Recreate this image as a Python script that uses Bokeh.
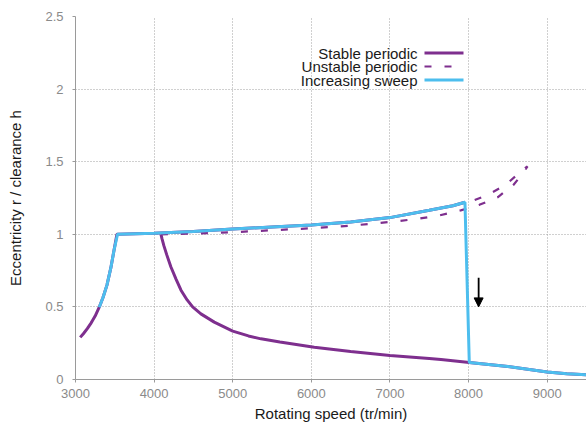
from bokeh.plotting import figure
from bokeh.models import Arrow, NormalHead, FixedTicker, Range1d
from bokeh.core.properties import value
from bokeh.embed import file_html
from bokeh.resources import INLINE

# ---------------- data ----------------
# stable periodic: resonance branch + contact (upper) branch
stable_up_x = [3060, 3100, 3150, 3200, 3250, 3302, 3350, 3400, 3450, 3490, 3527,
               4000, 4500, 5000, 5500, 6000, 6500, 7000, 7500, 7800, 7954]
stable_up_y = [0.29, 0.315, 0.35, 0.39, 0.437, 0.498, 0.565, 0.65, 0.77, 0.89, 1.0,
               1.008, 1.02, 1.036, 1.05, 1.064, 1.085, 1.115, 1.165, 1.197, 1.221]
# stable periodic: lower (non-contact) branch
stable_lo_x = [4087, 4100, 4125, 4160, 4214, 4280, 4342, 4420, 4490, 4595, 4765, 5000, 5200,
               5359, 5600, 6037, 6500, 7000, 7500, 7649, 8009, 8500, 9000, 9250, 9500]
stable_lo_y = [1.0, 0.97, 0.92, 0.86, 0.775, 0.69, 0.615, 0.548, 0.50, 0.452, 0.395, 0.333, 0.30,
               0.28, 0.258, 0.222, 0.193, 0.166, 0.145, 0.138, 0.117, 0.09, 0.052, 0.04, 0.032]
# unstable periodic branch
unstable_x = [4087, 4300, 4600, 4850, 5100, 5360, 5610, 5870, 6120, 6377, 6609, 6864, 7118,
              7373, 7628, 7900, 8137, 8370, 8570, 8690, 8750, 8680, 8470, 8245, 8010, 7954]
unstable_y = [1.0, 1.003, 1.007, 1.011, 1.017, 1.024, 1.031, 1.038, 1.046, 1.054, 1.065, 1.078, 1.092,
              1.108, 1.13, 1.165, 1.203, 1.255, 1.34, 1.42, 1.468, 1.44, 1.34, 1.272, 1.222, 1.221]
# increasing sweep
sweep_x = [3302, 3350, 3400, 3450, 3490, 3535, 4000, 4500, 5000, 5500, 6000, 6500, 7000,
           7500, 7800, 7954, 8009, 8500, 9000, 9250, 9500]
sweep_y = [0.498, 0.565, 0.65, 0.77, 0.89, 1.0, 1.008, 1.02, 1.036, 1.05, 1.064, 1.085, 1.115,
           1.165, 1.197, 1.221, 0.117, 0.09, 0.052, 0.04, 0.032]

jump_arrow_x = 8128
jump_arrow_y = [0.70, 0.50]

x_ticks = [3000, 4000, 5000, 6000, 7000, 8000, 9000]
y_ticks = [0, 0.5, 1, 1.5, 2, 2.5]
y_tick_labels = ["0", "0.5", "1", "1.5", "2", "2.5"]
legend_labels = ["Stable periodic", "Unstable periodic", "Increasing sweep"]

# ---------------- style ----------------
PURPLE = "#7E2F8E"
CYAN = "#4DBEEE"
FONT = "Liberation Sans"
X0, X1, Y0, Y1 = 3000, 9500, 0, 2.5

p = figure(width=586, height=425, output_backend="svg", toolbar_location=None,
           x_range=Range1d(X0, X1), y_range=Range1d(Y0, Y1),
           min_border_left=75, min_border_right=0, min_border_top=16, min_border_bottom=46)
p.outline_line_color = None

for ax in (p.xaxis[0], p.yaxis[0]):
    ax.axis_line_color = "#9a9a9a"
    ax.major_tick_line_color = "#9a9a9a"
    ax.minor_tick_line_color = None
    ax.major_tick_out = 3
    ax.major_tick_in = 0
    ax.major_label_text_font = FONT
    ax.major_label_text_font_size = "13px"
    ax.major_label_text_color = "#8a8a8a"
    ax.axis_label_text_font = FONT
    ax.axis_label_text_font_size = "15px"
    ax.axis_label_text_font_style = "normal"
    ax.axis_label_text_color = "#1a1a1a"

p.xaxis.ticker = FixedTicker(ticks=x_ticks)
p.yaxis.ticker = FixedTicker(ticks=y_ticks)
p.yaxis.major_label_overrides = {t: l for t, l in zip(y_ticks, y_tick_labels)}
p.xaxis.axis_label = "Rotating speed (tr/min)"
p.yaxis.axis_label = "Eccentricity r / clearance h"
p.xaxis.major_label_standoff = 6
p.xaxis.axis_label_standoff = 4
p.yaxis.major_label_standoff = 9
p.yaxis.axis_label_standoff = 18

for g in (p.xgrid[0], p.ygrid[0]):
    g.grid_line_color = "#a0a0a0"
    g.grid_line_dash = "1 2"
    g.grid_line_width = 1

# curves
p.line(stable_up_x, stable_up_y, line_color=PURPLE, line_width=3)
p.line(stable_lo_x, stable_lo_y, line_color=PURPLE, line_width=3)
p.line(unstable_x, unstable_y, line_color=PURPLE, line_width=2.2, line_dash="7 13")
p.line(sweep_x, sweep_y, line_color=CYAN, line_width=3)

p.add_layout(Arrow(end=NormalHead(size=9, fill_color="black", line_color="black"),
                   x_start=jump_arrow_x, y_start=jump_arrow_y[0],
                   x_end=jump_arrow_x, y_end=jump_arrow_y[1],
                   line_color="black", line_width=1.8))

# legend (text right-aligned, sample to the right), positioned in page pixels
def px2x(px):
    return X0 + (px - 75) * (X1 - X0) / 511.0

def py2y(py):
    return (379 - py) * (Y1 - Y0) / 363.0

rows_py = [52.5, 66, 79.5]
styles = [dict(line_color=PURPLE, line_width=3),
          dict(line_color=PURPLE, line_width=2.2, line_dash="7 13"),
          dict(line_color=CYAN, line_width=3)]
for lab, py, st in zip(legend_labels, rows_py, styles):
    p.text(x=[px2x(417)], y=[py2y(py)], text=[lab], text_align="right",
           text_baseline="middle", text_font=value(FONT), text_font_size="15px",
           text_color="#1a1a1a")
    p.line([px2x(424), px2x(463)], [py2y(py), py2y(py)], **st)

open("out.html", "w").write(file_html(p, INLINE))
